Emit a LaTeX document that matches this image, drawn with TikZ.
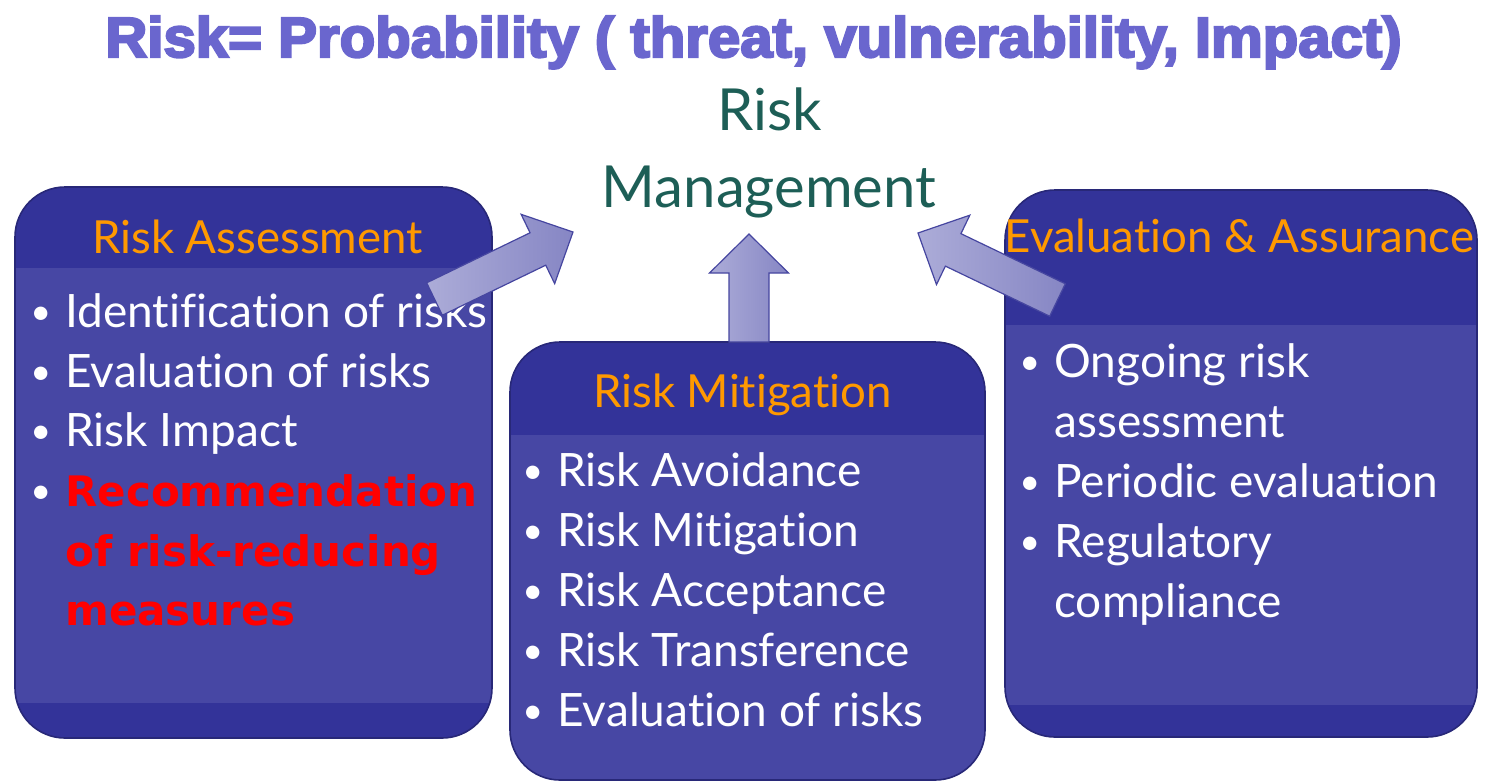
\documentclass[tikz,border=0pt]{standalone}
\usepackage{fontspec}
\usepackage{graphicx}
\setmainfont{Lato}[Ligatures=NoCommon]
\newfontfamily\titlefont{Liberation Sans}[BoldFeatures={FakeBold=4}]
\newfontfamily\redfont{DejaVu Sans}
\usetikzlibrary{calc}

\definecolor{boxhead}{RGB}{51,51,153}
\definecolor{boxbody}{RGB}{71,71,164}
\definecolor{boxline}{RGB}{40,40,120}
\definecolor{headorange}{RGB}{255,153,0}
\definecolor{rmteal}{RGB}{29,94,86}
\definecolor{titlepurple}{RGB}{106,102,206}
\definecolor{arrowlight}{RGB}{172,172,216}
\definecolor{arrowdark}{RGB}{134,134,196}
\definecolor{arrowline}{RGB}{70,70,160}
\definecolor{recred}{RGB}{255,0,0}

\tikzset{
  box/.style 2 args={draw=boxline, line width=0.8pt, fill=boxbody, rounded corners=25pt,
    inner sep=0pt, outer sep=0pt,
    path picture={
      \fill[boxhead, sharp corners] (path picture bounding box.north west) rectangle ([yshift=-#1]path picture bounding box.north east);
      \fill[boxhead, sharp corners] (path picture bounding box.south west) rectangle ([yshift=#2]path picture bounding box.south east);
    }},
  head/.style={text=headorange, font=\fontsize{22.8}{28}\selectfont, anchor=base, inner sep=0pt},
  item/.style={text=white, font=\fontsize{23}{28}\selectfont, anchor=base west, inner sep=0pt},
  recitem/.style={text=recred, font=\redfont\bfseries\fontsize{21}{25}\selectfont, anchor=base west, inner sep=0pt},
  rmtext/.style={text=rmteal, font=\fontsize{29}{35}\selectfont, anchor=base, inner sep=0pt},
  arrowbody/.style={draw=arrowline, line width=0.6pt, left color=arrowlight, right color=arrowdark}
}

% tail, tip, shaft half width, head half width, head length
\newcommand\blockarrow[5]{%
  \coordinate (ab) at ($(#2)!#5!(#1)$);
  \draw[arrowbody] ($(#1)!#3!90:(#2)$) -- ($(ab)!#3!90:(#2)$) -- ($(ab)!#4!90:(#2)$) -- (#2)
    -- ($(ab)!#4!-90:(#2)$) -- ($(ab)!#3!-90:(#2)$) -- ($(#1)!#3!-90:(#2)$) -- cycle;}
\newcommand\bul{\makebox[17.5pt][l]{\raisebox{1.2pt}{\fontsize{18}{18}\selectfont\textbullet}}}

\begin{document}
\begin{tikzpicture}[x=0.5pt,y=-0.5pt]
\useasboundingbox (0,0) rectangle (1491,782);

% formula
\node[anchor=base, inner sep=0pt, text=titlepurple, font=\titlefont\bfseries] (formula) at (753.5,57)
  {\resizebox{648pt}{20.5pt}{Risk= Probability ( threat, vulnerability, Impact)}};

% centre text
\node[rmtext] (rm-top) at (770,130) {Risk};
\node[rmtext] (rm-bot) at (769,207) {Management};

% the three boxes
\node[box={40.5pt}{17.5pt}, minimum width=238.5pt, minimum height=275.5pt] (ra) at (253.5,462.5) {};
\node[box={46.5pt}{0pt}, minimum width=237.5pt, minimum height=219pt] (rmit) at (747.5,561) {};
\node[box={67.5pt}{16pt}, minimum width=236pt, minimum height=273.5pt] (ea) at (1241,463.5) {};

% risk assessment
\node[head] (ra-head) at (257.5,253) {Risk Assessment};
\node[item] (ra-1) at (30,327) {\bul Identification of risks};
\node[item] (ra-2) at (30,387) {\bul Evaluation of risks};
\node[item] (ra-3) at (30,446) {\bul Risk Impact};
\node[item] (ra-4) at (30,506) {\bul};
\node[recitem] (ra-4a) at (65,506) {Recommendation};
\node[recitem] (ra-4b) at (65,566) {of risk-reducing};
\node[recitem] (ra-4c) at (65,625) {measures};

% risk mitigation
\node[head] (rmit-head) at (742.5,407) {Risk Mitigation};
\node[item] (rmit-1) at (522,486) {\bul Risk Avoidance};
\node[item] (rmit-2) at (522,546) {\bul Risk Mitigation};
\node[item] (rmit-3) at (522,606) {\bul Risk Acceptance};
\node[item] (rmit-4) at (522,666) {\bul Risk Transference};
\node[item] (rmit-5) at (522,726) {\bul Evaluation of risks};

% evaluation & assurance
\node[head] (ea-head) at (1239.5,252) {Evaluation \& Assurance};
\node[item] (ea-1) at (1019,377) {\bul Ongoing risk};
\node[item] (ea-1b) at (1054,437) {assessment};
\node[item] (ea-2) at (1019,497) {\bul Periodic evaluation};
\node[item] (ea-3) at (1019,557) {\bul Regulatory};
\node[item] (ea-3b) at (1054,617) {compliance};

% block arrows
\coordinate (la-tail) at (434.5,299);
\coordinate (la-tip) at (573,232);
\coordinate (ma-tail) at ($(rmit.north)+(1.5,0)$);
\coordinate (ma-tip) at (749,234);
\coordinate (rta-tail) at (1057.5,300);
\coordinate (rta-tip) at (918,233);
\blockarrow{la-tail}{la-tip}{9pt}{19.25pt}{19.5pt}
\blockarrow{ma-tail}{ma-tip}{10pt}{19.75pt}{19.5pt}
\blockarrow{rta-tail}{rta-tip}{9pt}{19.25pt}{19.5pt}
\end{tikzpicture}
\end{document}
